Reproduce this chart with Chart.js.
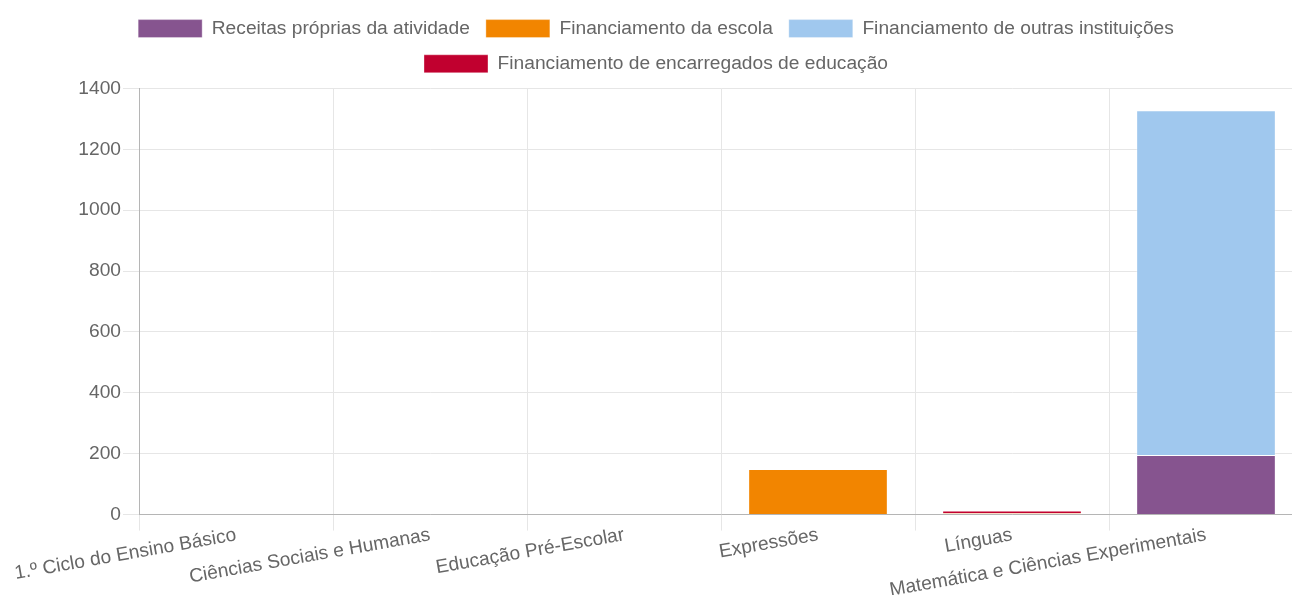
<!DOCTYPE html>
<html>
<head>
<meta charset="utf-8">
<script src="https://cdn.jsdelivr.net/npm/chart.js@4"></script>
<style>
    html, body { margin: 0; padding: 0; overflow: hidden; background: #fff; }
    .wrap { width: 1303px; height: 595px; position: relative; }
</style>
</head>
<body>
<div class="wrap"><canvas id="chartFunding"></canvas></div>
<script>
// ── Data ──────────────────────────────────────────────────────────────────
const categories = [
    '1.º Ciclo do Ensino Básico',
    'Ciências Sociais e Humanas',
    'Educação Pré-Escolar',
    'Expressões',
    'Línguas',
    'Matemática e Ciências Experimentais',
];
const receitasProprias   = [0, 0, 0, 0,   0, 196];
const financEscola       = [0, 0, 0, 150, 4, 0];
const financOutras       = [0, 0, 0, 0,   0, 1132];
const financEncarregados = [0, 0, 0, 0,   9, 0];
const yTicks = [0, 200, 400, 600, 800, 1000, 1200, 1400];

(function () {
    'use strict';

    const FONT = { family: '"Liberation Sans", Arial, sans-serif', size: 19.2 };

    function ds(label, data, color) {
        return {
            label,
            data,
            backgroundColor: color,
            borderColor    : 'rgba(255,255,255,0.35)',
            borderWidth    : 1,
            categoryPercentage: 0.8,
            barPercentage  : 0.9,
        };
    }

    // a bit more room under the legend
    const legendGap = {
        id: 'legendGap',
        beforeInit(chart) {
            const fit = chart.legend.fit;
            chart.legend.fit = function () {
                fit.bind(chart.legend)();
                this.height += 5;
            };
        },
    };

    new Chart(document.getElementById('chartFunding'), {
        type: 'bar',
        data: {
            labels: categories,
            datasets: [
                ds('Receitas próprias da atividade', receitasProprias, '#86548F'),
                ds('Financiamento da escola', financEscola, '#F28500'),
                ds('Financiamento de outras instituições', financOutras, '#A0C8EE'),
                ds('Financiamento de encarregados de educação', financEncarregados, '#C1002F'),
            ],
        },
        plugins: [legendGap],
        options: {
            responsive         : true,
            maintainAspectRatio: false,
            animation          : false,
            layout: { padding: { top: 3, left: 9, right: 0, bottom: 0 } },
            plugins: {
                legend: {
                    position: 'top',
                    labels: {
                        boxWidth : 64,
                        boxHeight: 18,
                        padding  : 16,
                        color    : '#666',
                        font     : FONT,
                    },
                },
                tooltip: { enabled: false },
            },
            scales: {
                x: {
                    stacked: true,
                    grid   : { color: '#e6e6e6', tickLength: 16 },
                    border : { color: '#b5b5b5' },
                    ticks  : {
                        color      : '#666',
                        font       : FONT,
                        padding    : -7,
                        minRotation: 10,
                        maxRotation: 10,
                        autoSkip   : false,
                    },
                },
                y: {
                    stacked: true,
                    min    : yTicks[0],
                    max    : yTicks[yTicks.length - 1],
                    grid   : { color: '#e6e6e6', tickLength: 16 },
                    border : { color: '#b5b5b5' },
                    afterBuildTicks: axis => {
                        axis.ticks = yTicks.map(v => ({ value: v }));
                    },
                    afterFit: axis => { axis.width = 130; },
                    ticks  : {
                        color   : '#666',
                        font    : FONT,
                        padding : 2,
                        callback: v => String(v),
                    },
                },
            },
        },
    });
})();
</script>
</body>
</html>
